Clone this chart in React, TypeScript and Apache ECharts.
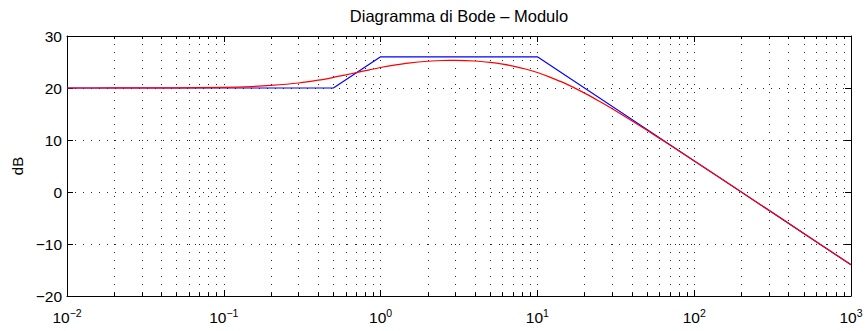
import React, { useEffect, useRef } from "react";
import * as echarts from "echarts";

// ---- Data ----
const chartTitle = "Diagramma di Bode – Modulo";
const yAxisName = "dB";

const yMin = -20;
const yMax = 30;
const yStep = 10;

const decadeExponents = [-2, -1, 0, 1, 2, 3];
const minorMultipliers = [2, 3, 4, 5, 6, 7, 8, 9];

// Asymptotic (straight-line) approximation, blue
const asymptoteFreq = [0.01, 0.5, 1, 10, 1000];
const asymptoteDb = [20, 20, 26, 26, -14];

const responseFreq = [
  0.01, 0.02, 0.05, 0.1, 0.15, 0.2, 0.3, 0.4, 0.5, 0.6, 0.7, 0.85, 1, 1.25, 1.5,
  2, 2.5, 3, 4, 5, 6, 7, 8.5, 10, 12, 15, 20, 25, 30, 40, 50, 70, 100, 150,
  200, 300, 500, 1000,
];
const responseDb = [
  20.0, 20.01, 20.04, 20.13, 20.28, 20.49, 20.96, 21.5, 22.04, 22.53, 22.96,
  23.5, 23.94, 24.44, 24.78, 25.14, 25.29, 25.3, 25.19, 24.92, 24.6, 24.22,
  23.6, 22.98, 22.1, 20.89, 19.02, 17.4, 16.01, 13.7, 11.87, 9.03, 5.98, 2.48,
  -0.01, -3.53, -7.96, -13.98,
];

const FONT = "'Liberation Sans', Arial, Helvetica, sans-serif";

export default function App() {
  const ref = useRef<HTMLDivElement>(null);

  useEffect(() => {
    if (!ref.current) return;
    const chart = echarts.init(ref.current, undefined, { renderer: "svg" });

    const xMin = decadeExponents[0];
    const xMax = decadeExponents[decadeExponents.length - 1];
    const minorPositions: number[] = [];
    for (let i = 0; i < decadeExponents.length - 1; i++) {
      for (const m of minorMultipliers) {
        minorPositions.push(Math.log10(m * Math.pow(10, decadeExponents[i])));
      }
    }

    const gridDash = { color: "#000", width: 1, type: [1, 7] as any, opacity: 0.85 };
    const axisLineStyle = { color: "#000", width: 1 };

    const fmtExp = (v: number) => {
      const e = Math.round(v);
      const s = e < 0 ? "\u2212" + -e : String(e);
      return `{b|10}{s|${s}}`;
    };

    const baseX = {
      type: "value" as const,
      min: xMin,
      max: xMax,
      gridIndex: 0,
    };

    const option: any = {
      animation: false,
      backgroundColor: "#fff",
      title: {
        text: chartTitle,
        left: 459,
        top: 7,
        textAlign: "center",
        padding: 0,
        textStyle: {
          fontFamily: FONT,
          fontSize: 16.5,
          fontWeight: "normal",
          color: "#000",
        },
      },
      grid: {
        left: 67,
        right: 17,
        top: 36,
        bottom: 35,
        containLabel: false,
      },
      xAxis: [
        {
          ...baseX,
          position: "bottom",
          interval: 1,
          axisLine: { show: true, onZero: false, lineStyle: axisLineStyle },
          axisTick: { show: true, inside: true, length: 6, lineStyle: axisLineStyle },
          splitLine: { show: true, lineStyle: gridDash },
          axisLabel: {
            show: true,
            margin: 11,
            formatter: fmtExp,
            rich: {
              b: { fontFamily: FONT, fontSize: 15.5, lineHeight: 18, color: "#000", verticalAlign: "bottom" },
              s: { fontFamily: FONT, fontSize: 10.5, lineHeight: 8, color: "#000", verticalAlign: "top" },
            },
          },
        },
        {
          ...baseX,
          position: "bottom",
          axisLine: { show: false, onZero: false },
          axisTick: { show: true, inside: true, length: 3, customValues: minorPositions, lineStyle: axisLineStyle },
          splitLine: { show: true, lineStyle: gridDash },
          axisLabel: { show: false },
        },
        {
          ...baseX,
          position: "top",
          interval: 1,
          axisLine: { show: true, onZero: false, lineStyle: axisLineStyle },
          axisTick: { show: true, inside: true, length: 6, lineStyle: axisLineStyle },
          splitLine: { show: false },
          axisLabel: { show: false },
        },
        {
          ...baseX,
          position: "top",
          axisLine: { show: false, onZero: false },
          axisTick: { show: true, inside: true, length: 3, customValues: minorPositions, lineStyle: axisLineStyle },
          splitLine: { show: false },
          axisLabel: { show: false },
        },
      ],
      yAxis: [
        {
          type: "value",
          min: yMin,
          max: yMax,
          interval: yStep,
          position: "left",
          name: yAxisName,
          nameLocation: "middle",
          nameGap: 39,
          nameTextStyle: { fontFamily: FONT, fontSize: 15, color: "#000" },
          axisLine: { show: true, onZero: false, lineStyle: axisLineStyle },
          axisTick: { show: true, inside: true, length: 6, lineStyle: axisLineStyle },
          splitLine: { show: true, lineStyle: gridDash },
          axisLabel: {
            margin: 5,
            fontFamily: FONT,
            fontSize: 15.5,
            color: "#000",
            formatter: (v: number) => (v < 0 ? "\u2212" + -v : String(v)),
          },
        },
        {
          type: "value",
          min: yMin,
          max: yMax,
          interval: yStep,
          position: "right",
          axisLine: { show: true, onZero: false, lineStyle: axisLineStyle },
          axisTick: { show: true, inside: true, length: 6, lineStyle: axisLineStyle },
          splitLine: { show: false },
          axisLabel: { show: false },
        },
      ],
      series: [
        {
          name: "Asintotico",
          type: "line",
          xAxisIndex: 0,
          yAxisIndex: 0,
          data: asymptoteFreq.map((f, i) => [Math.log10(f), asymptoteDb[i]]),
          showSymbol: false,
          symbol: "none",
          lineStyle: { color: "#0000ff", width: 1.2 },
          z: 3,
        },
        {
          name: "Reale",
          type: "line",
          xAxisIndex: 0,
          yAxisIndex: 0,
          data: responseFreq.map((f, i) => [Math.log10(f), responseDb[i]]),
          showSymbol: false,
          symbol: "none",
          smooth: 0.3,
          lineStyle: { color: "#ff0000", width: 1.2 },
          z: 4,
        },
      ],
    };

    chart.setOption(option);
    return () => chart.dispose();
  }, []);

  return (
    <div
      ref={ref}
      style={{ position: "fixed", left: 0, top: 0, width: 868, height: 331, background: "#fff" }}
    />
  );
}
